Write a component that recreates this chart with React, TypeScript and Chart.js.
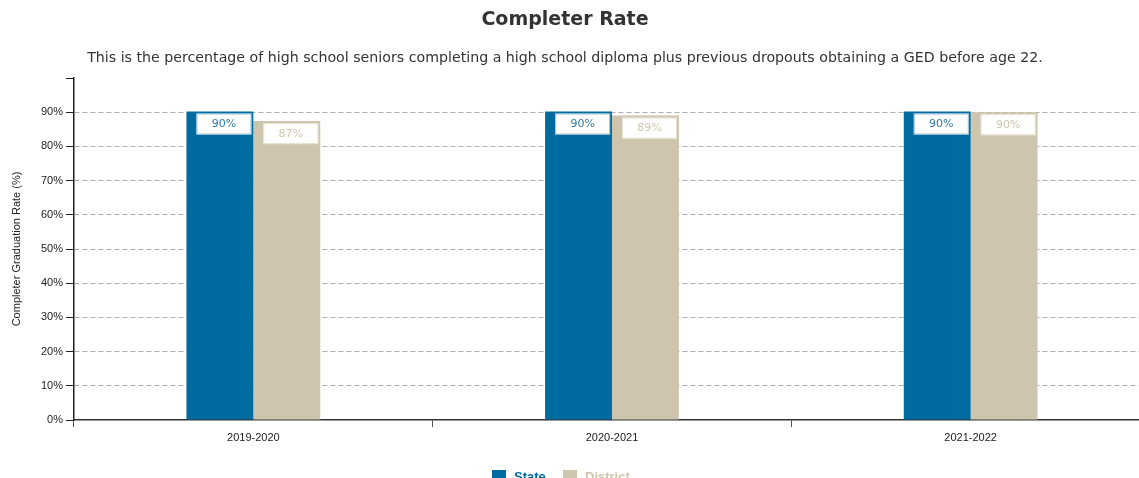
import React, { useEffect, useRef } from 'react';
import { Chart, registerables } from 'chart.js';

Chart.register(...registerables);

const TITLE = 'Completer Rate';
const SUBTITLE =
  'This is the percentage of high school seniors completing a high school diploma plus previous dropouts obtaining a GED before age 22.';
const Y_TITLE = 'Completer Graduation Rate (%)';

const categories = ['2019-2020', '2020-2021', '2021-2022'];
const seriesNames = ['State', 'District'];
const stateValues = [90.2, 90.2, 90.2];
const districtValues = [87.4, 89, 90];
const stateLabels = ['90%', '90%', '90%'];
const districtLabels = ['87%', '89%', '90%'];
const yTickValues = [0, 10, 20, 30, 40, 50, 60, 70, 80, 90];

const STATE_COLOR = '#006b9e';
const DISTRICT_COLOR = '#cdc5ae';
const STATE_TEXT = '#2f7aa6';
const DISTRICT_TEXT = '#cfc7b1';

const overlayPlugin = {
  id: 'overlay',
  afterDatasetsDraw(chart: any) {
    const ctx = chart.ctx;
    const labelSets = [stateLabels, districtLabels];
    const textColors = [STATE_TEXT, DISTRICT_TEXT];
    const borderColors = ['#9cc0d6', '#e6e0d0'];
    ctx.save();
    chart.data.datasets.forEach((_: any, di: number) => {
      const meta = chart.getDatasetMeta(di);
      meta.data.forEach((bar: any, i: number) => {
        const left = bar.x - bar.width / 2 + 10;
        const top = bar.y + 2;
        const w = 55;
        const h = 21;
        ctx.fillStyle = '#ffffff';
        ctx.fillRect(left, top, w, h);
        ctx.strokeStyle = borderColors[di];
        ctx.lineWidth = 1;
        ctx.strokeRect(left + 0.5, top + 0.5, w - 1, h - 1);
        ctx.fillStyle = textColors[di];
        ctx.font = '11px "DejaVu Sans"';
        ctx.textAlign = 'center';
        ctx.textBaseline = 'middle';
        ctx.fillText(labelSets[di][i], left + w / 2, top + h / 2 + 0.5);
      });
    });
    ctx.restore();
  },
  afterDraw(chart: any) {
    const ctx = chart.ctx;
    ctx.save();
    ctx.textAlign = 'center';
    ctx.textBaseline = 'middle';
    ctx.fillStyle = '#333333';
    ctx.font = 'bold 19px "DejaVu Sans"';
    ctx.fillText(TITLE, 565, 20);
    ctx.font = '14.2px "DejaVu Sans"';
    ctx.fillText(SUBTITLE, 565, 58);

    // legend
    const colors = [STATE_COLOR, DISTRICT_COLOR];
    const xs = [492, 563];
    ctx.textAlign = 'left';
    ctx.font = 'bold 13px "Liberation Sans"';
    seriesNames.forEach((name, i) => {
      ctx.fillStyle = colors[i];
      ctx.fillRect(xs[i], 470, 14, 10);
      ctx.fillText(name, xs[i] + 22, 477);
    });
    ctx.restore();
  },
};

export default function App() {
  const canvasRef = useRef<HTMLCanvasElement | null>(null);

  useEffect(() => {
    if (!canvasRef.current) return;
    const chart = new Chart(canvasRef.current, {
      type: 'bar',
      data: {
        labels: categories,
        datasets: [
          {
            label: seriesNames[0],
            data: stateValues,
            backgroundColor: STATE_COLOR,
            categoryPercentage: 0.373,
            barPercentage: 1,
          },
          {
            label: seriesNames[1],
            data: districtValues,
            backgroundColor: DISTRICT_COLOR,
            categoryPercentage: 0.373,
            barPercentage: 1,
          },
        ],
      },
      options: {
        animation: false,
        responsive: false,
        maintainAspectRatio: false,
        layout: { padding: { top: 78, right: 10, bottom: 0, left: 0 } },
        plugins: {
          legend: { display: false },
          title: { display: false },
          tooltip: { enabled: false },
        },
        scales: {
          x: {
            offset: true,
            afterFit: (s: any) => {
              s.height = 80;
            },
            grid: {
              offset: true,
              drawOnChartArea: false,
              drawTicks: true,
              tickLength: 7,
              color: '#555555',
              tickColor: '#555555',
            },
            border: { color: '#333333', width: 1.5 },
            ticks: {
              color: '#222222',
              font: { family: '"Liberation Sans", Arial', size: 11 },
              padding: 4,
            },
          },
          y: {
            min: 0,
            max: 100,
            afterFit: (s: any) => {
              s.width = 74;
            },
            afterBuildTicks: (s: any) => {
              s.ticks = [...yTickValues, 100].map((v) => ({ value: v }));
            },
            grid: {
              color: (c: any) =>
                c.tick && (c.tick.value === 0 || c.tick.value === 100) ? 'rgba(0,0,0,0)' : '#b0b0b0',
              tickColor: '#222222',
              tickLength: 8,
              lineWidth: 1,
            },
            border: { color: '#222222', width: 1.5, dash: [5, 3] },
            ticks: {
              color: '#222222',
              font: { family: '"Liberation Sans", Arial', size: 11 },
              padding: 3,
              callback: (v: any) => (yTickValues.includes(Number(v)) ? v + '%' : ''),
            },
            title: {
              display: true,
              text: Y_TITLE,
              color: '#222222',
              font: { family: '"Liberation Sans", Arial', size: 11 },
              padding: { top: 10, bottom: 4 },
            },
          },
        },
      },
      plugins: [overlayPlugin],
    });
    return () => chart.destroy();
  }, []);

  return (
    <div
      style={{
        position: 'absolute',
        left: 0,
        top: 0,
        width: 1139,
        height: 478,
        overflow: 'hidden',
        background: '#ffffff',
      }}
    >
      <canvas ref={canvasRef} width={1160} height={500} style={{ display: 'block' }} />
    </div>
  );
}
